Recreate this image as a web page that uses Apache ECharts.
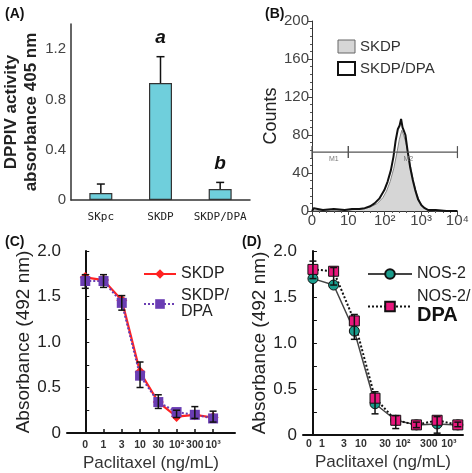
<!DOCTYPE html>
<html><head><meta charset="utf-8">
<script src="https://cdn.jsdelivr.net/npm/echarts@6/dist/echarts.min.js"></script>
<style>html,body{margin:0;padding:0;background:#fff}#c{width:472px;height:473px}</style>
</head><body><div id="c"></div>
<script>
// ---- Panel A data ----
const aCategories = ['SKpc', 'SKDP', 'SKDP/DPA'];
const aValues = [0.055, 0.93, 0.087];
const aErrTop = [0.127, 1.14, 0.14];
const aMarks = ['', 'a', 'b'];
const aYTicks = [0, 0.2, 0.4, 0.6, 0.8, 1.0, 1.2];
const aYLabels = [0, 0.4, 0.8, 1.2];

// ---- Panel B data (x in decades of log10 fluorescence) ----
const bSkdpX = [0, 0.5, 1.0, 1.3, 1.5, 1.65, 1.8, 1.95, 2.05, 2.15, 2.25, 2.33, 2.40, 2.47, 2.52, 2.58, 2.65, 2.72, 2.80, 2.88, 2.97, 3.07, 3.2, 3.4, 4.0];
const bSkdpY = [0, 1, 1, 2, 3, 5, 8, 14, 21, 31, 45, 60, 75, 85, 80, 72, 60, 45, 30, 18, 9, 4, 1, 0, 0];
const bDpaX = [0, 0.05, 0.1, 0.3, 0.6, 0.9, 1.1, 1.3, 1.45, 1.6, 1.72, 1.85, 1.99, 2.08, 2.17, 2.24, 2.30, 2.36, 2.41, 2.45, 2.49, 2.53, 2.57, 2.63, 2.70, 2.77, 2.84, 2.92, 3.01, 3.1, 3.2, 3.4, 3.7, 4.0];
const bDpaY = [0, 3, 1, 1, 2, 1, 2, 2, 3, 5, 8, 13, 22, 31, 43, 57, 74, 86, 90, 97, 88, 84, 80, 63, 46, 33, 22, 12, 6, 3, 1, 1, 0, 0];
const bXLabels = ['0', '10', '10²', '10³', '10⁴'];
const bGateStart = [0, 1];
const bGateEnd = [1, 4];
const bGateCount = [62, 62];
const bGateNames = ['M1', 'M2'];

// ---- Panel C / D data ----
const doseLabels = ['0', '1', '3', '10', '30', '10²', '300', '10³'];
const doseIndex = [0, 1, 2, 3, 4, 5, 6, 7];
const cSkdp = [1.71, 1.68, 1.46, 0.67, 0.34, 0.18, 0.20, 0.17];
const cSkdpDpa = [1.67, 1.67, 1.43, 0.63, 0.34, 0.23, 0.20, 0.16];
const cErrLow = [1.59, 1.60, 1.35, 0.50, 0.27, 0.17, 0.16, 0.12];
const cErrHigh = [1.74, 1.74, 1.51, 0.78, 0.42, 0.25, 0.29, 0.24];
const dNos2 = [1.70, 1.63, 1.13, 0.34, 0.16, 0.11, 0.12, 0.11];
const dNos2Dpa = [1.80, 1.78, 1.24, 0.40, 0.16, 0.11, 0.16, 0.11];
const dErrLow = [1.70, 1.63, 1.04, 0.23, 0.07, 0.08, 0.02, 0.09];
const dErrHigh = [1.89, 1.82, 1.31, 0.47, 0.21, 0.14, 0.20, 0.14];
const dLabelPos = [-0.19, 0.43, 1.5, 2.32, 3.48, 4.35, 5.6, 6.57];
const cdYTicks = [0, 0.25, 0.5, 0.75, 1.0, 1.25, 1.5, 1.75, 2.0];

const pair = (xs, ys) => xs.map((x, i) => [x, ys[i]]);

function errRender(capHalf, lowerCap, marks) {
  return function (params, api) {
    const x = api.value(0), lo = api.value(1), hi = api.value(2);
    const pLo = api.coord([x, lo]), pHi = api.coord([x, hi]);
    const style = { stroke: '#111', lineWidth: 1.5 };
    const ch = [
      { type: 'line', shape: { x1: pLo[0], y1: pLo[1], x2: pHi[0], y2: pHi[1] }, style },
      { type: 'line', shape: { x1: pHi[0] - capHalf, y1: pHi[1], x2: pHi[0] + capHalf, y2: pHi[1] }, style }
    ];
    if (lowerCap) ch.push({ type: 'line', shape: { x1: pLo[0] - capHalf, y1: pLo[1], x2: pLo[0] + capHalf, y2: pLo[1] }, style });
    if (marks && marks[params.dataIndex]) {
      ch.push({ type: 'text', style: { text: marks[params.dataIndex], x: pHi[0], y: pHi[1] - 19, align: 'center', verticalAlign: 'middle', font: 'italic bold 19px Arial, "Liberation Sans", sans-serif', fill: '#111' } });
    }
    return { type: 'group', children: ch };
  };
}

function gateRender(params, api) {
  const s = api.coord([api.value(0), api.value(2)]);
  const e = api.coord([api.value(1), api.value(2)]);
  const style = { stroke: '#555', lineWidth: 1.2 };
  const name = bGateNames[params.dataIndex];
  const lx = params.dataIndex === 0 ? s[0] + (e[0] - s[0]) * 0.6 : s[0] + (e[0] - s[0]) * 0.55;
  return { type: 'group', children: [
    { type: 'line', shape: { x1: s[0], y1: s[1], x2: e[0], y2: e[1] }, style },
    { type: 'line', shape: { x1: s[0], y1: s[1] - 6, x2: s[0], y2: s[1] + 6 }, style },
    { type: 'line', shape: { x1: e[0], y1: e[1] - 6, x2: e[0], y2: e[1] + 6 }, style },
    { type: 'text', style: { text: name, x: lx, y: s[1] + 7, align: 'center', verticalAlign: 'middle', font: '7px Arial, sans-serif', fill: '#777' } }
  ] };
}

const F = 'Arial, "Liberation Sans", sans-serif';
const chart = echarts.init(document.getElementById('c'), null, { renderer: 'canvas' });

const titleStyle = { fontFamily: F, fontWeight: 'bold', fontSize: 14, color: '#111' };

chart.setOption({
  animation: false,
  backgroundColor: '#fff',
  title: [
    { text: '(A)', left: 0, top: 2, textStyle: titleStyle },
    { text: '(B)', left: 260, top: 2, textStyle: titleStyle },
    { text: '(C)', left: 0, top: 230, textStyle: titleStyle },
    { text: '(D)', left: 237, top: 230, textStyle: titleStyle }
  ],
  legend: [
    {
      data: [
        { name: 'B:SKDP', icon: 'rect', itemStyle: { color: '#d6d6d6', borderColor: '#666', borderWidth: 1 } },
        { name: 'B:SKDP/DPA', icon: 'rect', itemStyle: { color: '#fff', borderColor: '#111', borderWidth: 2 } }
      ],
      orient: 'vertical', left: 332, top: 34, itemWidth: 17, itemHeight: 13, itemGap: 7,
      formatter: n => n.slice(2),
      textStyle: { fontFamily: F, fontSize: 15, color: '#333' }, selectedMode: false
    },
    {
      data: ['SKDP', 'SKDP/DPA'],
      orient: 'vertical', left: 138, top: 261, itemWidth: 32, itemHeight: 12, itemGap: 6,
      formatter: n => n === 'SKDP/DPA' ? 'SKDP/\nDPA' : n,
      textStyle: { fontFamily: F, fontSize: 16, color: '#222', lineHeight: 16 }, selectedMode: false
    },
    {
      data: ['NOS-2', 'NOS-2/DPA'],
      orient: 'vertical', left: 362, top: 261, itemWidth: 44, itemHeight: 12, itemGap: 6,
      formatter: n => n === 'NOS-2/DPA' ? '{a|NOS-2/}\n{b|DPA}' : n,
      textStyle: { fontFamily: F, fontSize: 16, color: '#222', lineHeight: 16,
        rich: { a: { fontFamily: F, fontSize: 16, color: '#222', lineHeight: 17 }, b: { fontFamily: F, fontSize: 20, fontWeight: 'bold', color: '#111', lineHeight: 20 } } },
      selectedMode: false
    }
  ],
  grid: [
    { left: 67, top: 24, width: 183, height: 176 },
    { left: 312, top: 21, width: 150, height: 190 },
    { left: 67, top: 251, width: 168, height: 184 },
    { left: 303, top: 251, width: 160, height: 184 }
  ],
  xAxis: [
    { gridIndex: 0, type: 'category', data: aCategories,
      axisLine: { lineStyle: { color: '#333', width: 1.5 } },
      axisTick: { inside: true, length: 4, lineStyle: { color: '#333' } },
      axisLabel: { interval: 0, fontFamily: '"DejaVu Sans Mono", monospace', fontSize: 11, color: '#222', margin: 12 } },
    { gridIndex: 1, type: 'value', min: 0, max: 4, interval: 1,
      axisLine: { lineStyle: { color: '#333', width: 1 } },
      axisTick: { show: true, length: 4, lineStyle: { color: '#444' } },
      minorTick: { show: true, splitNumber: 5, length: 2, lineStyle: { color: '#555' } },
      splitLine: { show: false },
      axisLabel: { fontFamily: F, fontSize: 15, color: '#444', margin: 2, formatter: v => bXLabels[Math.round(v)] ?? '' } },
    { gridIndex: 2, type: 'value', min: -1, max: 8.2,
      axisLine: { lineStyle: { color: '#111', width: 2 } },
      axisTick: { inside: true, length: 4, customValues: doseIndex, lineStyle: { color: '#111', width: 1.5 } },
      splitLine: { show: false },
      axisLabel: { customValues: doseIndex, fontFamily: F, fontSize: 10.5, fontWeight: 'bold', color: '#333', margin: 7,
        formatter: v => doseLabels[Math.round(v)] ?? '' },
      name: 'Paclitaxel (ng/mL)', nameLocation: 'middle', nameGap: 22,
      nameTextStyle: { fontFamily: F, fontSize: 17, color: '#333' } },
    { gridIndex: 3, type: 'value', min: -0.48, max: 7.25,
      axisLine: { lineStyle: { color: '#111', width: 2 } },
      axisTick: { show: false },
      splitLine: { show: false },
      axisLabel: { customValues: dLabelPos, fontFamily: F, fontSize: 10.5, fontWeight: 'bold', color: '#333', margin: 4,
        formatter: v => { const i = dLabelPos.findIndex(p => Math.abs(p - v) < 1e-6); return i >= 0 ? doseLabels[i] : ''; } },
      name: 'Paclitaxel (ng/mL)', nameLocation: 'middle', nameGap: 19,
      nameTextStyle: { fontFamily: F, fontSize: 17, color: '#333' } }
  ],
  yAxis: [
    { gridIndex: 0, type: 'value', min: 0, max: 1.4,
      axisLine: { show: true, lineStyle: { color: '#333', width: 1.5 } },
      axisTick: { inside: true, length: 4, customValues: aYTicks, lineStyle: { color: '#333' } },
      splitLine: { show: false },
      axisLabel: { customValues: aYLabels, fontFamily: F, fontSize: 15, color: '#444', margin: 5,
        formatter: v => v === 0 ? '0' : v.toFixed(1) },
      name: 'DPPIV activity\nabsorbance 405 nm', nameLocation: 'middle', nameGap: 30,
      nameTextStyle: { fontFamily: F, fontSize: 17, fontWeight: 'bold', color: '#222', lineHeight: 20 } },
    { gridIndex: 1, type: 'value', min: 0, max: 200, interval: 40,
      axisLine: { show: true, lineStyle: { color: '#333', width: 1 } },
      axisTick: { show: true, length: 4, lineStyle: { color: '#444' } },
      minorTick: { show: true, splitNumber: 5, length: 2, lineStyle: { color: '#555' } },
      splitLine: { show: false },
      axisLabel: { fontFamily: F, fontSize: 15, color: '#444', margin: 3 },
      name: 'Counts', nameLocation: 'middle', nameGap: 29,
      nameTextStyle: { fontFamily: F, fontSize: 18, color: '#222' } },
    { gridIndex: 2, type: 'value', min: 0, max: 2,
      axisLine: { show: true, lineStyle: { color: '#111', width: 2 } },
      axisTick: { inside: true, length: 4, customValues: cdYTicks, lineStyle: { color: '#111' } },
      splitLine: { show: false },
      axisLabel: { customValues: [0, 0.5, 1.0, 1.5, 2.0], fontFamily: F, fontSize: 17, color: '#222', margin: 6,
        formatter: v => v === 0 ? '0' : v.toFixed(1) },
      name: 'Absorbance (492 nm)', nameLocation: 'middle', nameGap: 30,
      nameTextStyle: { fontFamily: F, fontSize: 19, color: '#222' } },
    { gridIndex: 3, type: 'value', min: 0, max: 2,
      axisLine: { show: true, lineStyle: { color: '#111', width: 2 } },
      axisTick: { inside: true, length: 4, customValues: cdYTicks, lineStyle: { color: '#111' } },
      splitLine: { show: false },
      axisLabel: { customValues: [0, 0.5, 1.0, 1.5, 2.0], fontFamily: F, fontSize: 17, color: '#222', margin: 6,
        formatter: v => v === 0 ? '0' : v.toFixed(1) },
      name: 'Absorbance (492 nm)', nameLocation: 'middle', nameGap: 30,
      nameTextStyle: { fontFamily: F, fontSize: 19, color: '#222' } }
  ],
  series: [
    // Panel A
    { type: 'bar', xAxisIndex: 0, yAxisIndex: 0, data: aValues, barWidth: 23,
      itemStyle: { color: '#6fcfdc', borderColor: '#333', borderWidth: 1.2 } },
    { type: 'custom', xAxisIndex: 0, yAxisIndex: 0, z: 5,
      data: aValues.map((v, i) => [i, v, aErrTop[i]]),
      renderItem: errRender(4, false, aMarks) },
    // Panel B
    { name: 'B:SKDP', type: 'line', xAxisIndex: 1, yAxisIndex: 1, data: pair(bSkdpX, bSkdpY),
      showSymbol: false, symbol: 'none', color: '#d6d6d6',
      lineStyle: { color: '#888', width: 1 }, areaStyle: { color: '#d6d6d6', opacity: 1 } },
    { name: 'B:SKDP/DPA', type: 'line', xAxisIndex: 1, yAxisIndex: 1, data: pair(bDpaX, bDpaY),
      showSymbol: false, symbol: 'none', color: '#111',
      lineStyle: { color: '#111', width: 2 } },
    { type: 'custom', xAxisIndex: 1, yAxisIndex: 1, z: 6,
      data: bGateStart.map((s, i) => [s, bGateEnd[i], bGateCount[i]]),
      renderItem: gateRender },
    // Panel C
    { name: 'SKDP', type: 'line', xAxisIndex: 2, yAxisIndex: 2, data: pair(doseIndex, cSkdp),
      symbol: 'diamond', symbolSize: 11, color: '#ff2222',
      lineStyle: { color: '#ff2222', width: 2.2 }, itemStyle: { color: '#ff2222' } },
    { name: 'SKDP/DPA', type: 'line', xAxisIndex: 2, yAxisIndex: 2, data: pair(doseIndex, cSkdpDpa),
      symbol: 'rect', symbolSize: 10, color: '#6a3db3',
      lineStyle: { color: '#6a3db3', width: 2, type: 'dotted' }, itemStyle: { color: '#6a3db3' } },
    { type: 'custom', xAxisIndex: 2, yAxisIndex: 2, z: 6,
      data: doseIndex.map((x, i) => [x, cErrLow[i], cErrHigh[i]]),
      renderItem: errRender(3.5, true) },
    // Panel D
    { name: 'NOS-2', type: 'line', xAxisIndex: 3, yAxisIndex: 3, data: pair(doseIndex, dNos2),
      symbol: 'circle', symbolSize: 10, color: '#1a9c8c',
      lineStyle: { color: '#444', width: 1.5 }, itemStyle: { color: '#1a9c8c', borderColor: '#111', borderWidth: 1 } },
    { name: 'NOS-2/DPA', type: 'line', xAxisIndex: 3, yAxisIndex: 3, data: pair(doseIndex, dNos2Dpa),
      symbol: 'rect', symbolSize: 10, color: '#e8177d',
      lineStyle: { color: '#111', width: 2, type: 'dotted' }, itemStyle: { color: '#e8177d', borderColor: '#111', borderWidth: 1 } },
    { type: 'custom', xAxisIndex: 3, yAxisIndex: 3, z: 6,
      data: doseIndex.map((x, i) => [x, dErrLow[i], dErrHigh[i]]),
      renderItem: errRender(3.5, true) }
  ]
});
</script></body></html>
